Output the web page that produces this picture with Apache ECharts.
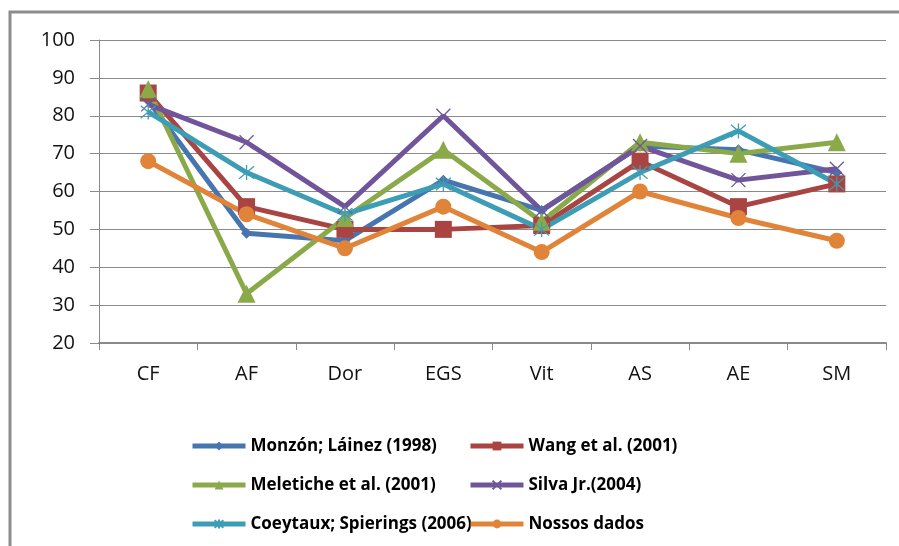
<!DOCTYPE html>
<html>
<head>
<meta charset="utf-8">
<script src="https://cdn.jsdelivr.net/npm/echarts@6/dist/echarts.min.js"></script>
<style>
  html, body { margin: 0; padding: 0; background: #ffffff; }
  #chart { width: 899px; height: 546px; }
</style>
</head>
<body>
<div id="chart"></div>
<script>
// Categories on the x axis
const categories = ['CF', 'AF', 'Dor', 'EGS', 'Vit', 'AS', 'AE', 'SM'];

// Series values, one array per study
const monzon    = [84, 49, 47, 63, 55, 72, 71, 65];
const wang      = [86, 56, 50, 50, 51, 68, 56, 62];
const meletiche = [87, 33, 53, 71, 52, 73, 70, 73];
const silva     = [83, 73, 56, 80, 55, 72, 63, 66];
const coeytaux  = [81, 65, 54, 62, 50, 65, 76, 62];
const nossos    = [68, 54, 45, 56, 44, 60, 53, 47];

// Series names shown in the legend
const seriesNames = [
  'Monzón; Láinez (1998)',
  'Wang et al. (2001)',
  'Meletiche et al. (2001)',
  'Silva Jr.(2004)',
  'Coeytaux; Spierings (2006)',
  'Nossos dados'
];

// Value axis range
const yMin = 20, yMax = 100, yStep = 10;

const colors = ['#4675b0', '#a94442', '#8aaa4a', '#70559a', '#3d9db5', '#e0843a'];

const xPath = 'path://M0,0L10,10M10,0L0,10';
const starPath = 'path://M0,0L10,10M10,0L0,10M5,-1L5,11';

function lineSeries(name, data, color, symbol, size, stroked) {
  return {
    name: name,
    type: 'line',
    data: data,
    symbol: symbol,
    symbolSize: size,
    showAllSymbol: true,
    color: color,
    lineStyle: { color: color, width: 5 },
    itemStyle: stroked
      ? { color: 'rgba(0,0,0,0)', borderColor: color, borderWidth: 1.3 }
      : { color: color },
    emphasis: { disabled: true },
    animation: false
  };
}

const chart = echarts.init(document.getElementById('chart'), null, { renderer: 'canvas' });

const labelFont = '"Open Sans", "Liberation Sans", sans-serif';

const legendBase = {
  orient: 'vertical',
  top: 436,
  padding: 0,
  itemWidth: 53,
  itemHeight: 11,
  itemGap: 19,
  lineStyle: { width: 5 },
  textStyle: { color: '#000000', fontSize: 17, fontWeight: 'bold', fontFamily: labelFont, lineHeight: 20 }
};

chart.setOption({
  backgroundColor: '#ffffff',
  animation: false,
  graphic: [{
    type: 'rect',
    shape: { x: 10, y: 12, width: 900, height: 560 },
    style: { fill: 'none', stroke: '#8c8c8c', lineWidth: 3 },
    silent: true,
    z: -1
  }],
  grid: { left: 99, right: 13, top: 40, bottom: 203, containLabel: false },
  xAxis: {
    type: 'category',
    data: categories,
    boundaryGap: true,
    axisLine: { show: true, lineStyle: { color: '#8a8a8a', width: 2 } },
    axisTick: { show: true, length: 7, inside: false, lineStyle: { color: '#8a8a8a', width: 1 } },
    axisLabel: { margin: 21, color: '#111111', fontSize: 20, fontFamily: labelFont },
    splitLine: { show: false }
  },
  yAxis: {
    type: 'value',
    min: yMin,
    max: yMax,
    interval: yStep,
    axisLine: { show: true, lineStyle: { color: '#8a8a8a', width: 1 } },
    axisTick: { show: true, length: 9, lineStyle: { color: '#8a8a8a', width: 1 } },
    axisLabel: { margin: 24, color: '#111111', fontSize: 20, fontFamily: labelFont },
    splitLine: { show: true, lineStyle: { color: '#8a8a8a', width: 1.2 } }
  },
  legend: [
    Object.assign({}, legendBase, { left: 190, data: [seriesNames[0], seriesNames[2], seriesNames[4]] }),
    Object.assign({}, legendBase, { left: 468, data: [seriesNames[1], seriesNames[3], seriesNames[5]] })
  ],
  series: [
    lineSeries(seriesNames[0], monzon, colors[0], 'diamond', 11, false),
    lineSeries(seriesNames[1], wang, colors[1], 'rect', 17, false),
    lineSeries(seriesNames[2], meletiche, colors[2], 'triangle', 18, false),
    lineSeries(seriesNames[3], silva, colors[3], xPath, 14, true),
    lineSeries(seriesNames[4], coeytaux, colors[4], starPath, 15, true),
    lineSeries(seriesNames[5], nossos, colors[5], 'circle', 16, false)
  ]
});
</script>
</body>
</html>
